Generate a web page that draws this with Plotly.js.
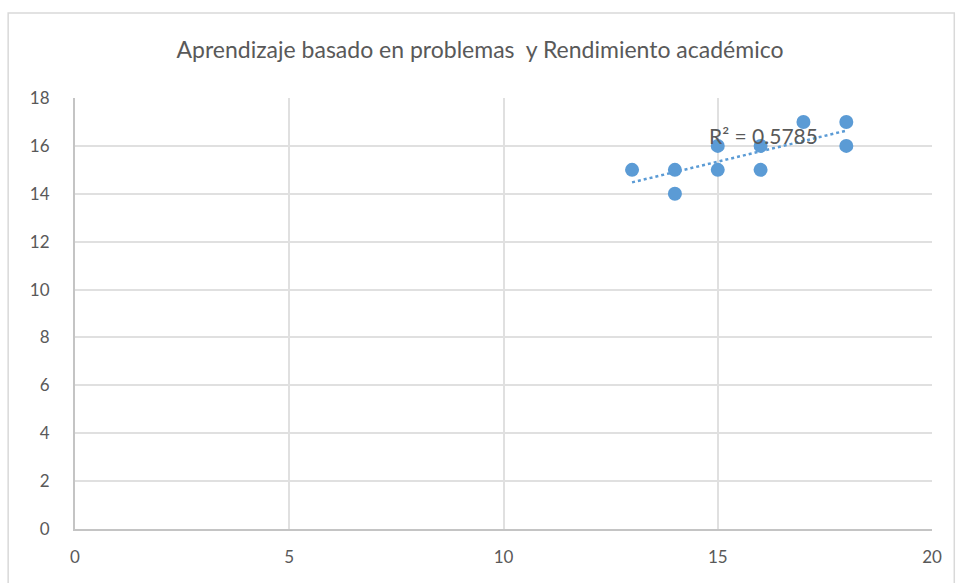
<!DOCTYPE html>
<html>
<head>
<meta charset="utf-8">
<script src="https://cdn.plot.ly/plotly-3.0.1.min.js"></script>
<style>
html,body{margin:0;padding:0;background:#fff;}
#chart{width:960px;height:583px;}
</style>
</head>
<body>
<div id="chart"></div>
<script>
var xValues = [13, 14, 14, 15, 15, 16, 16, 17, 18, 18];
var yValues = [15, 15, 14, 16, 15, 16, 15, 17, 17, 16];
var xTicks = [0, 5, 10, 15, 20];
var yTicks = [0, 2, 4, 6, 8, 10, 12, 14, 16, 18];
var r2Label = "R² = 0.5785";
var chartTitle = "Aprendizaje basado en problemas  y Rendimiento académico";

// linear regression from data
var n = xValues.length;
var mx = xValues.reduce(function(a,b){return a+b;},0)/n;
var my = yValues.reduce(function(a,b){return a+b;},0)/n;
var sxy = 0, sxx = 0;
for (var i=0;i<n;i++){ sxy += (xValues[i]-mx)*(yValues[i]-my); sxx += (xValues[i]-mx)*(xValues[i]-mx); }
var slope = sxy/sxx, intercept = my - slope*mx;
var xMin = Math.min.apply(null,xValues), xMax = Math.max.apply(null,xValues);
var trendX = [xMin, xMax];
var trendY = trendX.map(function(x){return intercept + slope*x;});

var font = "Lato, Open Sans, sans-serif";
var data = [
  {x: trendX, y: trendY, mode: 'lines', type: 'scatter',
   line: {color: '#5b9bd5', width: 2.5, dash: 'dot'}, hoverinfo: 'skip'},
  {x: xValues, y: yValues, mode: 'markers', type: 'scatter',
   marker: {color: '#5b9bd5', size: 14}}
];
var layout = {
  width: 960, height: 583,
  margin: {l: 75, r: 28, t: 98, b: 54},
  paper_bgcolor: '#fff', plot_bgcolor: '#fff',
  showlegend: false,
  title: {text: chartTitle, x: 0.5, xanchor: 'center', y: 0.915, yanchor: 'middle',
          font: {family: font, size: 23, color: '#595959'}},
  xaxis: {range: [0, 20], tickvals: xTicks, ticktext: xTicks.map(String),
          showgrid: true, gridcolor: '#e0e0e0', gridwidth: 2,
          zeroline: false, showline: true, linecolor: '#c4c4c4', linewidth: 2,
          ticks: '', tickfont: {family: font, size: 17, color: '#595959'}, ticklabelstandoff: 12},
  yaxis: {range: [0, 18], tickvals: yTicks, ticktext: yTicks.map(String),
          showgrid: true, gridcolor: '#e0e0e0', gridwidth: 2,
          zeroline: false, showline: true, linecolor: '#c4c4c4', linewidth: 2,
          ticks: '', tickfont: {family: font, size: 17, color: '#595959'}, ticklabelstandoff: 20},
  annotations: [{x: 16.06, y: 16.42, xref: 'x', yref: 'y', text: r2Label, showarrow: false,
                 font: {family: font, size: 21, color: '#595959'}}],
  shapes: [{type: 'rect', xref: 'paper', yref: 'paper', x0: -0.078, x1: 1.026, y0: -0.14, y1: 1.197,
            line: {color: '#d9d9d9', width: 1.5}, layer: 'below'}]
};
Plotly.newPlot('chart', data, layout, {displayModeBar: false, staticPlot: true});
</script>
</body>
</html>
